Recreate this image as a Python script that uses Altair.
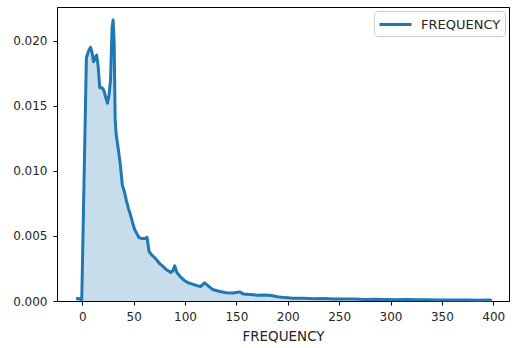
import altair as alt
import pandas as pd

x_vals = [-6, -4, -1, -0.5, 4, 6, 8, 9.5, 11, 12.5, 14, 15.5, 17, 19, 21, 23, 24.5, 26, 27.5, 29, 30, 31, 32, 33,
          35, 37, 39, 41, 43, 45, 47, 49, 51, 53, 55, 58, 61, 63, 65, 68, 71, 75, 78, 82, 86, 88, 90, 92, 95, 99,
          103, 107, 111, 115, 119, 122, 127, 133, 140, 147, 153, 157, 163, 170, 178, 184, 190, 197, 205, 215, 225,
          235, 245, 255, 265, 275, 285, 295, 305, 315, 325, 335, 345, 355, 365, 375, 385, 395, 397, 398.5]
y_vals = [0.0002, 0.0002, 0.0001, 0.0001, 0.0187, 0.0192, 0.0195, 0.0191, 0.0184, 0.0187, 0.0189, 0.0180, 0.0164,
          0.0164, 0.0162, 0.0156, 0.0152, 0.0158, 0.0170, 0.0210, 0.0216, 0.0200, 0.0140, 0.0128,
          0.0117, 0.0105, 0.0089, 0.0084, 0.0077, 0.0071, 0.0066, 0.0060, 0.0055, 0.0052, 0.0049, 0.0048, 0.0048,
          0.0049, 0.0038, 0.0035, 0.0033, 0.0029, 0.0027, 0.0024, 0.0022, 0.0023, 0.0027, 0.0022, 0.0019, 0.0016,
          0.0014, 0.0013, 0.0012, 0.0011, 0.0014, 0.0012, 0.00088, 0.00075, 0.00063, 0.00062, 0.00070, 0.00053,
          0.00050, 0.00045, 0.00046, 0.00042, 0.00032, 0.00026, 0.00022, 0.00022, 0.00018,
          0.00020, 0.00016, 0.00015, 0.00016, 0.00012, 0.00013, 0.00011, 0.00010, 0.00011, 0.00009, 0.00010,
          0.00008, 0.00008, 0.00007, 0.00008, 0.00006, 0.00008, 0.00007, 0.00001]
series_name = "FREQUENCY"
x_ticks = [0, 50, 100, 150, 200, 250, 300, 350, 400]
y_ticks = [0.000, 0.005, 0.010, 0.015, 0.020]

df = pd.DataFrame({"x": x_vals, "y": y_vals, "series": series_name})

xs = alt.Scale(domain=[-24.6, 415.3], nice=False, zero=False)
ys = alt.Scale(domain=[0, 0.0226], nice=False)
blue = "#1f77b4"

x_enc = alt.X("x:Q", scale=xs, axis=alt.Axis(values=x_ticks, title="FREQUENCY", format="d"))
y_enc = alt.Y("y:Q", scale=ys, axis=alt.Axis(values=y_ticks, title=None, format=".3f"))

area = alt.Chart(df).mark_area(color=blue, opacity=0.25).encode(x=x_enc, y=y_enc)
line = alt.Chart(df).mark_line(strokeWidth=3, strokeJoin="round").encode(
    x=x_enc, y=y_enc,
    color=alt.Color("series:N", scale=alt.Scale(range=[blue]),
                    legend=alt.Legend(title=None, orient="top-right", offset=4,
                                      symbolType="M-1,0H3", symbolSize=256,
                                      symbolStrokeWidth=3, labelFontSize=13,
                                      labelFont="DejaVu Sans", labelColor="#262626",
                                      fillColor="white", strokeColor="#cccccc",
                                      cornerRadius=3, padding=4, labelOffset=24)),
)

chart = (area + line).properties(
    width=452, height=294,
    autosize=alt.AutoSizeParams(type="none"),
    padding={"left": 57, "top": 7, "right": 3, "bottom": 47},
).configure_view(stroke="black", strokeWidth=1).configure_axis(
    grid=False, domainColor="black", tickColor="black", tickSize=4,
    labelFont="DejaVu Sans", labelFontSize=12, labelColor="#262626",
    titleFont="DejaVu Sans", titleFontSize=13.5, titleFontWeight="normal", titleColor="#262626",
    labelPadding=6, titlePadding=7,
)

chart.save("out.html", embed_options={"renderer": "svg", "actions": False})
